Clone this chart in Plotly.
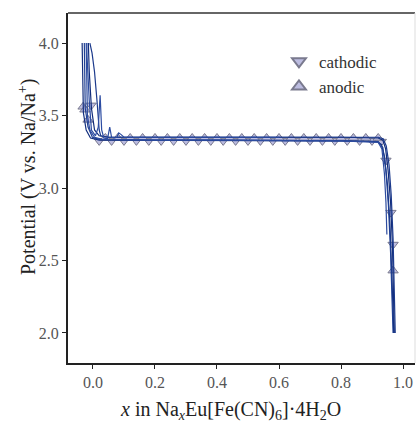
import plotly.graph_objects as go

# ---------------- data ----------------
# discharge (cathodic) curves
d1_x = [-0.035, -0.034, -0.031, -0.022, -0.008, 0.02, 0.2, 0.4, 0.6, 0.8, 0.915, 0.93, 0.94, 0.95, 0.958, 0.964, 0.968, 0.970]
d1_v = [4.0, 3.78, 3.52, 3.40, 3.345, 3.33, 3.33, 3.33, 3.33, 3.325, 3.32, 3.30, 3.22, 3.02, 2.75, 2.45, 2.15, 2.0]
d2_x = [-0.028, -0.027, -0.025, -0.016, -0.002, 0.02, 0.2, 0.4, 0.6, 0.8, 0.92, 0.935, 0.945, 0.953, 0.96, 0.965, 0.968]
d2_v = [4.0, 3.72, 3.55, 3.42, 3.35, 3.335, 3.33, 3.33, 3.33, 3.325, 3.32, 3.28, 3.12, 2.88, 2.55, 2.2, 2.0]
d3_x = [-0.022, -0.021, -0.018, -0.01, 0.005, 0.03, 0.2, 0.4, 0.6, 0.8, 0.92, 0.932, 0.94, 0.945, 0.948]
d3_v = [4.0, 3.75, 3.5, 3.40, 3.35, 3.335, 3.33, 3.33, 3.33, 3.325, 3.315, 3.27, 3.1, 2.9, 2.68]
# charge (anodic) curves
a1_x = [0.972, 0.970, 0.966, 0.960, 0.952, 0.944, 0.935, 0.92, 0.8, 0.6, 0.4, 0.2, 0.05, 0.02, 0.005, -0.005, -0.012, -0.015]
a1_v = [2.0, 2.3, 2.6, 2.9, 3.12, 3.27, 3.33, 3.345, 3.35, 3.35, 3.35, 3.35, 3.35, 3.36, 3.40, 3.55, 3.80, 4.0]
a2_x = [0.975, 0.972, 0.968, 0.962, 0.955, 0.946, 0.936, 0.92, 0.8, 0.6, 0.4, 0.2, 0.05, 0.025, 0.02, 0.013, 0.005, -0.003, -0.01]
a2_v = [2.0, 2.35, 2.65, 2.95, 3.16, 3.29, 3.34, 3.35, 3.35, 3.35, 3.35, 3.35, 3.35, 3.36, 3.40, 3.60, 3.80, 3.93, 4.0]
a3_x = [0.6, 0.3, 0.12, 0.1, 0.09, 0.083, 0.077, 0.07, 0.06, 0.054, 0.047, 0.035, 0.028, 0.023, 0.017, 0.008, -0.005, -0.012, -0.019, -0.02]
a3_v = [3.35, 3.35, 3.35, 3.35, 3.37, 3.38, 3.35, 3.345, 3.35, 3.42, 3.34, 3.345, 3.40, 3.64, 3.42, 3.36, 3.40, 3.6, 3.9, 4.0]

# markers
cath_x = [-0.006, 0.02, 0.06, 0.10, 0.14, 0.18, 0.22, 0.26, 0.30, 0.34, 0.38, 0.42, 0.46, 0.50, 0.54, 0.58, 0.62, 0.66, 0.70, 0.74, 0.78, 0.82, 0.86, 0.90, 0.93, 0.945, 0.961, 0.968]
cath_v = [3.57, 3.325, 3.325, 3.325, 3.325, 3.325, 3.325, 3.325, 3.325, 3.325, 3.325, 3.325, 3.325, 3.325, 3.325, 3.325, 3.325, 3.325, 3.325, 3.325, 3.325, 3.325, 3.325, 3.325, 3.32, 3.19, 2.83, 2.61]
anod_x = [-0.032, -0.026, -0.016, 0.04, 0.08, 0.12, 0.16, 0.20, 0.24, 0.28, 0.32, 0.36, 0.40, 0.44, 0.48, 0.52, 0.56, 0.60, 0.64, 0.68, 0.72, 0.76, 0.80, 0.84, 0.88, 0.92, 0.968]
anod_v = [3.56, 3.54, 3.47, 3.345, 3.345, 3.345, 3.345, 3.345, 3.345, 3.345, 3.345, 3.345, 3.345, 3.345, 3.345, 3.345, 3.345, 3.345, 3.345, 3.345, 3.345, 3.345, 3.345, 3.345, 3.345, 3.345, 2.43]

x_ticks = [0.0, 0.2, 0.4, 0.6, 0.8, 1.0]
y_ticks = [2.0, 2.5, 3.0, 3.5, 4.0]

# ---------------- figure ----------------
FONT = "Liberation Serif"
MFILL = "#bcbce0"
MEDGE = "#7a7a8e"

fig = go.Figure()

fig.add_trace(go.Scatter(x=cath_x, y=cath_v, mode="markers", name="cathodic",
                         marker=dict(symbol="triangle-down", size=9, color=MFILL,
                                     line=dict(color=MEDGE, width=1))))
fig.add_trace(go.Scatter(x=anod_x, y=anod_v, mode="markers", name="anodic",
                         marker=dict(symbol="triangle-up", size=9, color=MFILL,
                                     line=dict(color=MEDGE, width=1))))

curves = [(d1_x, d1_v, "#14307f"), (d2_x, d2_v, "#1f3f92"), (d3_x, d3_v, "#2d4c9f"),
          (a1_x, a1_v, "#112c7a"), (a2_x, a2_v, "#1c3a8c"), (a3_x, a3_v, "#2c4ca2")]
for cx, cv, col in curves:
    fig.add_trace(go.Scatter(x=cx, y=cv, mode="lines", showlegend=False,
                             line=dict(color=col, width=1.2), hoverinfo="skip"))

fig.update_layout(
    width=416, height=423,
    margin=dict(l=68, r=1, t=13, b=60),
    paper_bgcolor="white", plot_bgcolor="white",
    font=dict(family=FONT, color="#333"),
    showlegend=True,
    legend=dict(x=0.608, y=0.912, xanchor="left", yanchor="top",
                bgcolor="rgba(0,0,0,0)", font=dict(family=FONT, size=17, color="#333"),
                itemsizing="constant", tracegroupgap=2),
    xaxis=dict(range=[-0.0806, 1.0387], tickvals=x_ticks, ticktext=[f"{v:.1f}" for v in x_ticks],
               showgrid=False, zeroline=False, showline=True, linecolor="#222", linewidth=2,
               ticks="outside", ticklen=4, tickwidth=1.2, tickcolor="#222",
               tickfont=dict(family=FONT, size=16, color="#555")),
    yaxis=dict(range=[1.793, 4.207], tickvals=y_ticks, ticktext=[f"{v:.1f}" for v in y_ticks],
               showgrid=False, zeroline=False, showline=True, linecolor="#222", linewidth=2,
               ticks="outside", ticklen=4, tickwidth=1.2, tickcolor="#222",
               tickfont=dict(family=FONT, size=16, color="#555")),
    shapes=[
        dict(type="line", xref="paper", yref="paper", x0=0, x1=1, y0=1, y1=1,
             line=dict(color="#333", width=1.5)),
        dict(type="line", xref="paper", yref="paper", x0=1, x1=1, y0=0, y1=1,
             line=dict(color="#ddd", width=1)),
    ],
    annotations=[
        dict(text="<i>x</i> in Na<sub><i>x</i></sub>Eu[Fe(CN)<sub>6</sub>]·4H<sub>2</sub>O",
             xref="paper", yref="paper", x=(230 - 68) / 347, y=-(410 - 363) / 350,
             xanchor="center", yanchor="middle", showarrow=False,
             font=dict(family=FONT, size=20, color="#222")),
        dict(text="Potential (V vs. Na/Na<sup>+</sup>)",
             xref="paper", yref="paper", x=-(68 - 27) / 347, y=1 - (177 - 13) / 350,
             xanchor="center", yanchor="middle", showarrow=False, textangle=-90,
             font=dict(family=FONT, size=20, color="#222")),
    ],
)

fig.write_html("out.html")
